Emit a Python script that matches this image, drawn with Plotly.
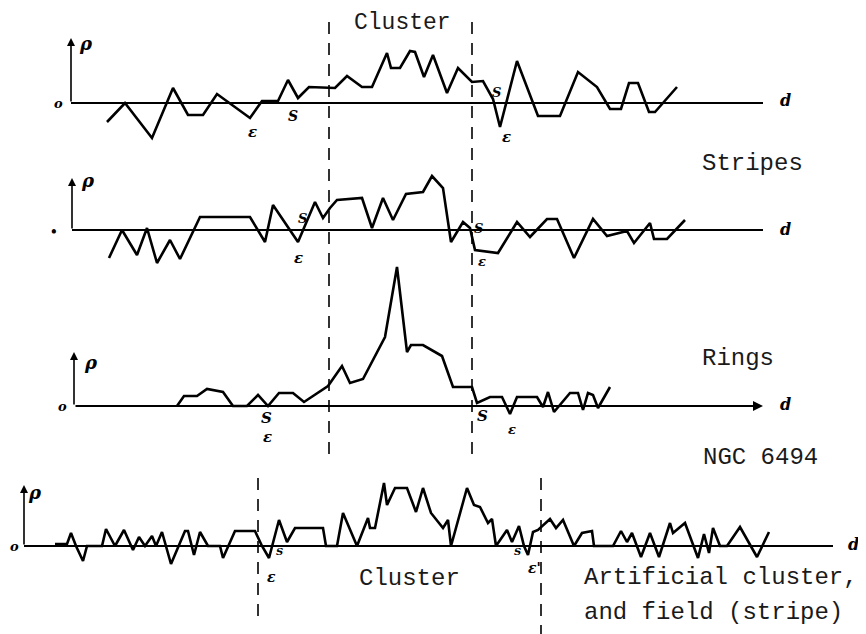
import plotly.graph_objects as go

# ---------------- data (d position, rho value) ----------------
d_cluster = [107,125,152,173,188,203,217,250,262,278,288,298,309,335,347,362,372,387,391,400,410,415,424,433,447,458,472,483,493,500,517,538,560,578,597,610,621,629,638,649,655,677]
rho_cluster = [-19,0,-35,15,-12,-12,9,-15,2,2,23,5,16,15,27,16,16,50,35,35,52,51,26,48,10,35,21,22,4,-24,42,-13,-13,31,16,-6,-6,20,20,-9,-9,16]

d_stripes = [109,122,137,147,157,170,180,200,250,265,273,298,315,323,330,337,362,372,383,393,406,423,432,443,451,463,470,475,498,517,530,547,557,574,593,607,627,634,650,654,667,685]
rho_stripes = [-28,0,-25,2,-33,-10,-29,13,13,-12,25,-12,28,12,22,30,32,2,32,10,36,38,54,42,-12,8,2,-20,-23,8,-7,11,11,-28,11,-6,-1,-13,7,-9,-9,10]

d_rings = [177,184,197,207,223,233,247,258,268,279,293,304,328,342,350,363,385,397,407,411,423,442,453,472,477,490,502,510,517,537,543,548,554,570,578,583,588,593,598,610]
rho_rings = [0,10,10,17,14,0,0,11,0,13,13,4,20,40,23,27,69,139,54,61,61,50,19,19,3,9,9,-8,9,9,-1,14,-6,13,13,-4,13,11,-2,19]

d_ngc = [55,67,71,76,83,87,102,106,115,124,133,139,145,152,156,162,171,185,188,194,200,208,220,223,235,255,262,269,279,287,295,323,326,337,343,357,368,370,375,384,387,395,407,416,423,431,443,448,451,467,474,480,488,492,496,507,512,519,524,528,533,538,550,556,563,574,582,592,594,613,621,627,632,641,650,659,670,673,685,698,704,709,713,720,727,740,757,769]
rho_ngc = [2,2,13,0,-15,0,0,17,0,16,-4,9,0,10,0,14,-18,15,15,-9,14,0,0,-12,15,15,0,-12,26,4,18,18,0,0,33,0,28,18,18,63,41,58,58,34,58,33,18,26,0,58,41,39,23,27,0,16,4,20,0,-9,14,16,27,18,26,0,13,15,0,0,15,4,13,-11,13,-11,23,13,23,-12,12,-7,18,0,0,19,-11,14]

panel_titles = ["Stripes", "Rings", "NGC 6494"]

W, H = 866, 634
OFF = 8  # browser page margin compensation
# panel bands (pixel top, bottom, baseline)
bands = [(15, 160, 103), (150, 290, 230), (250, 440, 406), (465, 640, 546)]

fig = go.Figure()
series = [(d_cluster, rho_cluster), (d_stripes, rho_stripes), (d_rings, rho_rings), (d_ngc, rho_ngc)]
layout_axes = {}
for i, ((top, bot, base), (dx, ry)) in enumerate(zip(bands, series)):
    yname = "y" if i == 0 else f"y{i+1}"
    key = "yaxis" if i == 0 else f"yaxis{i+1}"
    layout_axes[key] = dict(domain=[1 - (bot - OFF) / H, 1 - (top - OFF) / H], range=[base - bot, base - top],
                            visible=False, fixedrange=True)
    fig.add_trace(go.Scatter(x=dx, y=ry, mode="lines", yaxis=yname,
                             line=dict(color="black", width=2.6), hoverinfo="skip", showlegend=False))

fig.update_layout(**layout_axes)

line_col = "black"
axis_specs = [
    ("y", 71, 763, 65, False),
    ("y2", 72, 763, 52, False),
    ("y3", 74, 763, 54, True),
    ("y4", 24, 833, 61, False),
]
ann = []
shapes = []
for yref, xs, xe, rtop, arr in axis_specs:
    if arr:
        ann.append(dict(x=xe, y=0, ax=xs, ay=0, xref="x", yref=yref, axref="x", ayref=yref,
                        showarrow=True, arrowhead=2, arrowsize=1, arrowwidth=2, arrowcolor=line_col, text=""))
    else:
        shapes.append(dict(type="line", xref="x", yref=yref, x0=xs, x1=xe, y0=0, y1=0,
                           line=dict(color=line_col, width=2.2)))
    ann.append(dict(x=xs, y=rtop, ax=xs, ay=0, xref="x", yref=yref, axref="x", ayref=yref,
                    showarrow=True, arrowhead=2, arrowsize=1, arrowwidth=1.6, arrowcolor=line_col, text=""))

def px2p(py):
    return 1 - (py - OFF) / H

def pxx(px):
    return (px - OFF) / W

for xv in (329, 472):
    shapes.append(dict(type="line", xref="x", yref="paper", x0=xv, x1=xv, y0=px2p(22), y1=px2p(455),
                       line=dict(color=line_col, width=1.6, dash="12px,9px")))
for xv, yb in ((258, 622), (541, 634)):
    shapes.append(dict(type="line", xref="x", yref="paper", x0=xv, x1=xv, y0=px2p(478), y1=px2p(yb),
                       line=dict(color=line_col, width=1.6, dash="12px,9px")))

mono = "Courier New, Liberation Mono, monospace"
def txt(s, x, y, size=24, font=mono, yanchor="middle"):
    ann.append(dict(text=s, x=pxx(x), y=px2p(y), xref="paper", yref="paper", showarrow=False,
                    xanchor="left", yanchor=yanchor, font=dict(family=font, size=size, color="#1a1a1a")))

txt("Cluster", 352, 8, size=23, yanchor="top")
txt(panel_titles[0], 700, 163)
txt(panel_titles[1], 700, 358)
txt(panel_titles[2], 701, 457)
txt("Cluster", 357, 578)
txt("Artificial cluster,", 582, 577)
txt("and field (stripe)", 582, 612)

hand = "DejaVu Serif"
small = [
    ("ρ", 86, 44, 18), ("ρ", 88, 180, 18), ("ρ", 91, 362, 18), ("ρ", 35, 492, 18),
    ("o", 58, 104, 13), ("•", 54, 232, 12), ("o", 62, 406, 13), ("o", 14, 546, 13),
    ("d", 785, 101, 16), ("d", 785, 229, 16), ("d", 785, 404, 16), ("d", 853, 544, 16),
    ("ε", 252, 132, 15), ("S", 293, 116, 14), ("S", 496, 92, 13), ("ε", 506, 137, 15),
    ("S", 302, 219, 13), ("ε", 298, 258, 15), ("S", 478, 228, 13), ("ε", 482, 262, 13),
    ("S", 266, 418, 15), ("ε", 267, 437, 15), ("S", 482, 416, 15), ("ε", 512, 429, 13),
    ("ε", 271, 577, 14), ("S", 279, 551, 10), ("S", 517, 551, 10), ("ε'", 534, 568, 14),
]
for s, x, y, sz in small:
    ann.append(dict(text=f"<i><b>{s}</b></i>", x=pxx(x), y=px2p(y), xref="paper", yref="paper",
                    showarrow=False, xanchor="center", yanchor="middle",
                    font=dict(family=hand, size=sz, color="black")))

fig.update_layout(
    width=W, height=H, margin=dict(l=0, r=0, t=0, b=0),
    paper_bgcolor="white", plot_bgcolor="white",
    xaxis=dict(range=[OFF, W + OFF], domain=[0, 1], visible=False, fixedrange=True),
    annotations=ann, shapes=shapes, showlegend=False,
)
fig.write_html("out.html")
